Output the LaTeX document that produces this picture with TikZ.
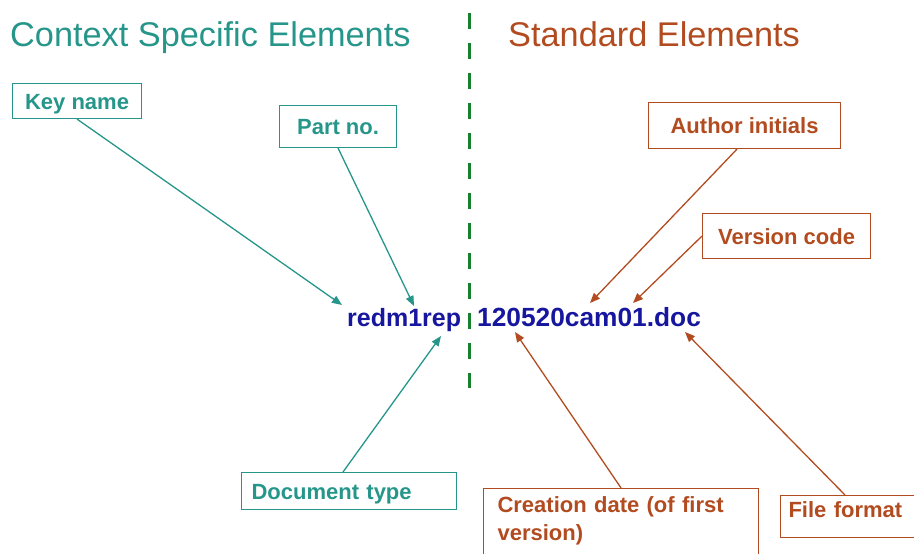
\documentclass[tikz,border=0pt]{standalone}
\usepackage{fontspec}
\setmainfont{Liberation Sans}
\usetikzlibrary{arrows.meta}

\definecolor{ctxteal}{RGB}{38,150,138}
\definecolor{stdbrown}{RGB}{178,76,32}
\definecolor{fnblue}{RGB}{22,22,158}
\definecolor{divgreen}{RGB}{22,128,44}

\tikzset{
    tag/.style={draw, line width=1.1pt, anchor=north west, inner xsep=10pt, inner ysep=0pt,
                font=\bfseries\fontsize{22}{28}\selectfont},
    oneline/.style={text height=16pt, text depth=0pt},
    ctxtag/.style={tag, oneline, draw=ctxteal, text=ctxteal},
    stdtag/.style={tag, oneline, draw=stdbrown, text=stdbrown},
    ctxarrow/.style={draw=ctxteal, line width=1.3pt, -{Triangle[length=10pt,width=8pt]}},
    stdarrow/.style={draw=stdbrown, line width=1.3pt, -{Triangle[length=10pt,width=8pt]}},
}

\begin{document}
\begin{tikzpicture}[x=1pt, y=-1pt]
            \useasboundingbox (0,0) rectangle (914,554);
            \clip (0,0) rectangle (914,554);

            % titles
            \node[anchor=base west, inner sep=0pt, text=ctxteal, font=\fontsize{34.3}{40}\selectfont]  (ctx title) at (10,46)  {Context Specific Elements};
            \node[anchor=base west, inner sep=0pt, text=stdbrown, font=\fontsize{34.3}{40}\selectfont] (std title) at (508,46) {Standard Elements};

            % divider
            \coordinate (div top)    at (469,13);
            \coordinate (div bottom) at (469,388);
            \draw[divgreen, line width=3pt, dash pattern=on 16pt off 14pt] (div top) -- (div bottom);

            % file name
            \node[anchor=base west, inner sep=0pt, text=fnblue, font=\bfseries\fontsize{25}{30}\selectfont] (fname left)  at (347,326) {redm1rep};
            \node[anchor=base west, inner sep=0pt, text=fnblue, font=\bfseries\fontsize{26.3}{30}\selectfont] (fname right) at (477,326) {120520cam01.doc};

            % labels
            \node[ctxtag, minimum width=129pt, minimum height=35pt]            (key name) at (12,83)   {Key name};
            \node[ctxtag, minimum width=117pt, minimum height=42pt]            (part no)  at (279,105) {Part no.};
            \node[ctxtag, text width=195pt, align=left, minimum height=37pt]   (doc type) at (241,472) {Document type};
            \node[stdtag, minimum width=192pt, minimum height=46pt]            (author)   at (648,102) {Author initials};
            \node[stdtag, minimum width=168pt, minimum height=45pt]            (version)  at (702,213) {Version code};
            \node[tag, draw=stdbrown, text=stdbrown, text width=247pt, align=left, inner xsep=14pt, inner ysep=8pt] (creation) at (483,488) {Creation date (of first\\version)\\ \mbox{}};
            \node[stdtag, text height=10pt, text depth=8pt, text width=124pt, align=left, inner xsep=8pt, minimum height=42pt] (format) at (780,495) {File format};

            % arrow tips on the file name
            \coordinate (key tip)      at (342,305);
            \coordinate (part tip)     at (414,306);
            \coordinate (type tip)     at (441,336);
            \coordinate (author tip)   at (590,303);
            \coordinate (version tip)  at (633,303);
            \coordinate (creation tip) at (515,332);
            \coordinate (format tip)   at (685,332);

            \draw[ctxarrow] (key name.south) -- (key tip);
            \draw[ctxarrow] (part no.south)  -- (part tip);
            \draw[ctxarrow] (doc type.north -| 343,0) -- (type tip);
            \draw[stdarrow] (author.south -| 737,0) -- (author tip);
            \draw[stdarrow] (version.west)   -- (version tip);
            \draw[stdarrow] (creation.north) -- (creation tip);
            \draw[stdarrow] (format.north -| 845,0) -- (format tip);
        \end{tikzpicture}
\end{document}
